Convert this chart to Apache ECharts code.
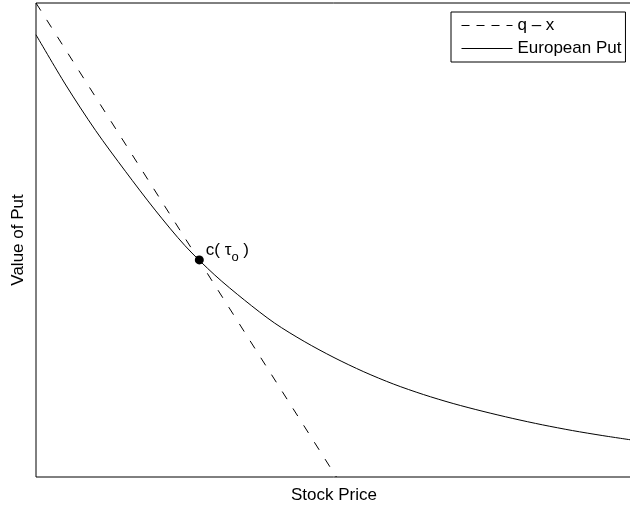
<!DOCTYPE html>
<html>
<head>
<meta charset="utf-8">
<script src="https://cdn.jsdelivr.net/npm/echarts@6/dist/echarts.min.js"></script>
<style>
  html, body { margin: 0; padding: 0; background: #fff; }
  #chart { width: 630px; height: 505px; }
</style>
</head>
<body>
<div id="chart"></div>
<script>
// European put value against the stock price (arbitrary units, 0-100 on both axes)
const putPrices = [0, 5, 10, 15, 20, 25, 30, 35, 40, 45, 50, 55, 60, 65, 70, 75, 80, 85, 90, 95, 100];
const putValues = [93.3, 82.7, 73.1, 64.5, 56.3, 48.8, 42.6, 37.3, 32.5, 28.6, 25.2, 22.2, 19.6, 17.4, 15.5, 13.85, 12.35, 11.0, 9.8, 8.75, 7.8];

// Intrinsic value line q - x: end points of the straight line
const intrinsicPrices = [0, 50.4];
const intrinsicValues = [100, 0];

// Marked point where the two lines meet
const markPrice = 27.4;
const markValue = 45.8;

const seriesNames = ['q \u2013 x', 'European Put'];
const xTitle = 'Stock Price';
const yTitle = 'Value of Put';

const FONT = '"Liberation Sans", Arial, Helvetica, sans-serif';

const chart = echarts.init(document.getElementById('chart'), null, { renderer: 'canvas' });

chart.setOption({
  animation: false,
  backgroundColor: '#fff',
  textStyle: { fontFamily: FONT, color: '#000' },
  grid: {
    left: 36, top: 3, right: -2, bottom: 28,
    outerBoundsMode: 'none', containLabel: false,
    show: true, borderColor: '#000', borderWidth: 1, backgroundColor: 'transparent'
  },
  xAxis: {
    type: 'value', min: 0, max: 100,
    name: xTitle, nameLocation: 'middle', nameGap: 10,
    nameTextStyle: { fontSize: 17, color: '#000', fontFamily: FONT, verticalAlign: 'top' },
    axisLine: { show: false }, axisTick: { show: false },
    axisLabel: { show: false }, splitLine: { show: false }
  },
  yAxis: {
    type: 'value', min: 0, max: 100,
    name: yTitle, nameLocation: 'middle', nameGap: 9,
    nameTextStyle: { fontSize: 17, color: '#000', fontFamily: FONT },
    axisLine: { show: false }, axisTick: { show: false },
    axisLabel: { show: false }, splitLine: { show: false }
  },
  legend: {
    data: [
      { name: seriesNames[0], lineStyle: { type: [8, 7], width: 1, color: '#000' } },
      { name: seriesNames[1], lineStyle: { type: 'solid', width: 1, color: '#000' } }
    ],
    orient: 'vertical',
    left: 451, top: 12,
    itemWidth: 51, itemHeight: 14, itemGap: 6,
    padding: [5, 4, 5, 10],
    borderColor: '#000', borderWidth: 1, borderRadius: 0,
    backgroundColor: '#fff',
    itemStyle: { color: 'transparent', borderColor: 'transparent', borderWidth: 0 },
    textStyle: { fontSize: 17, color: '#000', fontFamily: FONT },
    selectedMode: false
  },
  series: [
    {
      name: seriesNames[0],
      type: 'line',
      data: intrinsicPrices.map((p, i) => [p, intrinsicValues[i]]),
      showSymbol: false, symbol: 'none',
      lineStyle: { color: '#000', width: 1, type: [9, 11] },
      itemStyle: { color: '#000' },
      silent: true, z: 3
    },
    {
      name: seriesNames[1],
      type: 'line',
      data: putPrices.map((p, i) => [p, putValues[i]]),
      smooth: 0.3,
      showSymbol: false, symbol: 'none',
      lineStyle: { color: '#000', width: 1 },
      itemStyle: { color: '#000' },
      silent: true, z: 3
    },
    {
      name: 'point',
      type: 'scatter',
      data: [[markPrice, markValue]],
      symbol: 'circle', symbolSize: 9,
      itemStyle: { color: '#000', opacity: 1 },
      z: 4,
      label: {
        show: true,
        position: 'right',
        distance: 2,
        offset: [0, -10],
        color: '#000',
        formatter: '{n|c( }{g|\u03c4}{s|o}{n| )}',
        rich: {
          n: { fontSize: 17, fontFamily: FONT, color: '#000', lineHeight: 28, verticalAlign: 'middle' },
          g: { fontSize: 17, fontFamily: FONT, color: '#000', lineHeight: 28, verticalAlign: 'middle' },
          s: { fontSize: 13, fontFamily: FONT, color: '#000', lineHeight: 14, verticalAlign: 'bottom' }
        }
      }
    }
  ]
});
</script>
</body>
</html>
